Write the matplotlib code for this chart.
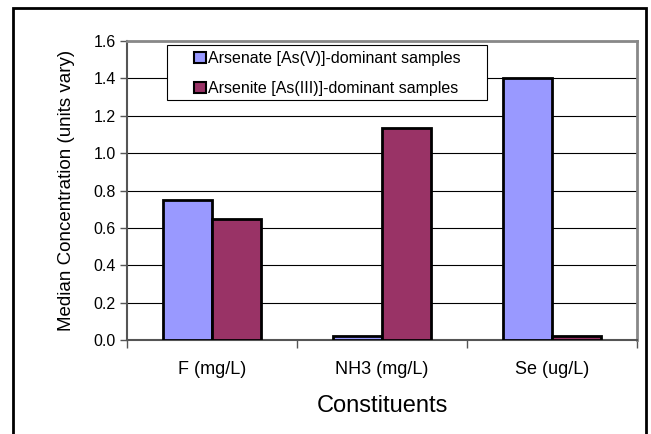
import matplotlib.pyplot as plt
import numpy as np
from matplotlib.patches import Rectangle

plt.rcParams['font.family'] = ['Liberation Sans', 'DejaVu Sans']

categories = ['F (mg/L)', 'NH3 (mg/L)', 'Se (ug/L)']
arsenate = [0.75, 0.02, 1.40]
arsenite = [0.65, 1.135, 0.02]
labels = ['Arsenate [As(V)]-dominant samples', 'Arsenite [As(III)]-dominant samples']
colors = ['#9999FF', '#993366']

W, H = 651, 434
fig = plt.figure(figsize=(W / 100, H / 100), dpi=100)
ax = fig.add_axes([127 / W, 1 - 340 / H, 510 / W, 299 / H])

x = np.arange(len(categories))
w = 1 / 3.5
ax.bar(x - w / 2, arsenate, w, color=colors[0], edgecolor='black', linewidth=2, label=labels[0], zorder=3)
ax.bar(x + w / 2, arsenite, w, color=colors[1], edgecolor='black', linewidth=2, label=labels[1], zorder=3)

ax.set_xlim(-0.5, 2.5)
ax.set_ylim(0, 1.6)
ax.set_yticks(np.arange(0, 1.61, 0.2))
ax.set_yticklabels([f'{v:.1f}' for v in np.arange(0, 1.61, 0.2)], fontsize=11.5)
ax.yaxis.grid(True, color='black', linewidth=0.8, zorder=0)

ax.set_xticks([-0.5, 0.5, 1.5, 2.5])
ax.set_xticklabels([])
ax.set_xticks(x, minor=True)
ax.set_xticklabels(categories, minor=True, fontsize=13)
ax.tick_params(axis='x', which='minor', length=0, pad=15)
ax.tick_params(axis='x', which='major', length=6, color='#555555', width=1)
ax.tick_params(axis='y', length=5, color='#555555', width=1, pad=3)

for side in ['left', 'bottom']:
    ax.spines[side].set_color('#555555')
    ax.spines[side].set_linewidth(1.5)
for side in ['top', 'right']:
    ax.spines[side].set_color('#888888')
    ax.spines[side].set_linewidth(2)

ax.set_xlabel('Constituents', fontsize=17, labelpad=12)
ax.set_ylabel('Median Concentration (units vary)', fontsize=13.5, labelpad=13)

# legend without its own frame, box drawn separately (Excel style wide box)
leg = ax.legend(loc='upper left', bbox_to_anchor=(194 / W, 1 - 51 / H),
                bbox_transform=fig.transFigure, fontsize=11.5, frameon=False,
                handlelength=0.72, handleheight=0.72, handletextpad=0.15,
                borderpad=0, labelspacing=0.95, borderaxespad=0)
for h in leg.legend_handles:
    h.set_linewidth(1.5)
leg.set_zorder(6)

ax.add_patch(Rectangle((167 / W, 1 - 100 / H), (487 - 167) / W, 55 / H,
                       transform=fig.transFigure, facecolor='white',
                       edgecolor='black', linewidth=0.8, zorder=5))

fig.patches.append(Rectangle((13 / W, -0.05), (646 - 13) / W, 1.05 - 8 / H,
                             transform=fig.transFigure, fill=False,
                             edgecolor='black', linewidth=2))

fig.savefig('out.png', dpi=100)
